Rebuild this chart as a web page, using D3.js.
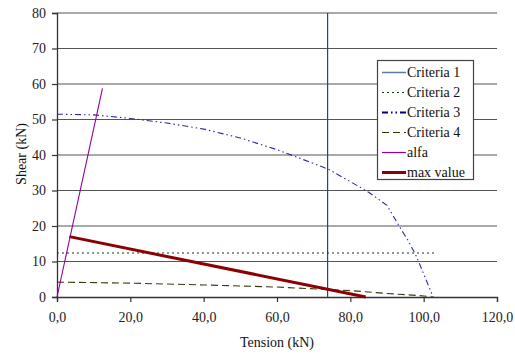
<!DOCTYPE html>
<html>
<head>
<meta charset="utf-8">
<script src="https://cdn.jsdelivr.net/npm/d3@7"></script>
<style>
  body { margin: 0; background: #fff; }
</style>
</head>
<body>
<svg id="chart" width="515" height="354"></svg>
<script>
// Tick values
const xTicks = [0, 20, 40, 60, 80, 100, 120];
const yTicks = [0, 10, 20, 30, 40, 50, 60, 70, 80];

// Series (Tension kN, Shear kN)
const criteria1 = [[73.8, 0], [73.8, 80]];
const criteria2 = [[0, 12.4], [103.3, 12.4]];
const criteria3 = [[0, 51.5], [10, 51.3], [20, 50.3], [30, 49.0], [40, 47.3], [50, 44.8],
                   [60, 41.5], [70, 37.6], [74, 36.0], [80, 32.5], [85, 29.5], [90, 25.8],
                   [94, 18.8], [96, 15.5], [98, 11.5], [100, 6.5], [102.6, 0]];
const criteria4 = [[0, 4.2], [20, 3.9], [40, 3.4], [60, 2.8], [74, 2.1], [80, 1.8],
                   [90, 1.0], [100, 0.3], [102.6, 0]];
const alfa = [[0, 0], [12.4, 58.8]];
const maxValue = [[3.4, 17.0], [84.2, 0]];

const legendNames = ["Criteria 1", "Criteria 2", "Criteria 3", "Criteria 4", "alfa", "max value"];

const FONT = "Liberation Serif";
const svg = d3.select("#chart");
const m = { left: 57, right: 497, top: 13, bottom: 297 };

const x = d3.scaleLinear().domain([0, 120]).range([m.left, m.right]);
const y = d3.scaleLinear().domain([0, 80]).range([m.bottom, m.top]);

// Horizontal gridlines
svg.append("g").selectAll("line").data(yTicks.filter(d => d > 0)).join("line")
  .attr("x1", m.left).attr("x2", m.right)
  .attr("y1", d => y(d)).attr("y2", d => y(d))
  .attr("stroke", "#555").attr("stroke-width", 1.2);

// Axes
const fmtX = d => d3.format(".1f")(d).replace(".", ",");
const xAxis = svg.append("g").attr("transform", `translate(0,${m.bottom})`)
  .call(d3.axisBottom(x).tickValues(xTicks).tickFormat(fmtX).tickSize(5).tickPadding(10));
const yAxis = svg.append("g").attr("transform", `translate(${m.left},0)`)
  .call(d3.axisLeft(y).tickValues(yTicks).tickSize(5).tickPadding(6));
[xAxis, yAxis].forEach(a => {
  a.attr("font-family", FONT).attr("font-size", 14);
  a.select(".domain").attr("stroke", "#333").attr("stroke-width", 1.3);
  a.selectAll(".tick line").attr("stroke", "#333").attr("stroke-width", 1.2);
  a.selectAll(".tick text").attr("fill", "#222");
});

// Axis titles
svg.append("text").attr("x", (m.left + m.right) / 2).attr("y", 347)
  .attr("text-anchor", "middle").attr("font-family", FONT).attr("font-size", 14)
  .attr("fill", "#111").text("Tension (kN)");
svg.append("text").attr("transform", `translate(26,154) rotate(-90)`)
  .attr("text-anchor", "middle").attr("font-family", FONT).attr("font-size", 14)
  .attr("fill", "#111").text("Shear (kN)");

const line = d3.line().x(d => x(d[0])).y(d => y(d[1]));

const styles = [
  { data: criteria1, stroke: "#1f4a7a", width: 1.2, dash: null, lw: 1.5, lstroke: "#5a7aa0" },
  { data: criteria2, stroke: "#123812", width: 1.2, dash: "2,3", lw: 1.2 },
  { data: criteria3, stroke: "#2a2aa0", width: 1.1, dash: "6,3,1.5,3,1.5,3", lw: 2.2, lstroke: "#000080" },
  { data: criteria4, stroke: "#3a3a10", width: 1.1, dash: "7,4", lw: 1.2, lstroke: "#333300" },
  { data: alfa, stroke: "#990099", width: 1.1, dash: null, lw: 1.2 },
  { data: maxValue, stroke: "#8b0000", width: 3, dash: null, lw: 3 }
];

svg.append("g").selectAll("path").data(styles).join("path")
  .attr("d", s => line(s.data))
  .attr("fill", "none")
  .attr("stroke", s => s.stroke)
  .attr("stroke-width", s => s.width)
  .attr("stroke-dasharray", s => s.dash);

// Legend
const lg = svg.append("g");
lg.append("rect").attr("x", 377.5).attr("y", 60.5).attr("width", 96).attr("height", 119)
  .attr("fill", "#fff").attr("stroke", "#444").attr("stroke-width", 1.2);
const rows = lg.selectAll("g.row").data(styles).join("g")
  .attr("transform", (d, i) => `translate(0,${72.5 + i * 20})`);
rows.append("line").attr("x1", 382).attr("x2", 406).attr("y1", 0).attr("y2", 0)
  .attr("stroke", s => s.lstroke || s.stroke)
  .attr("stroke-width", s => s.lw)
  .attr("stroke-dasharray", s => s.dash);
rows.append("text").attr("x", 407).attr("y", 0).attr("dy", "0.35em")
  .attr("font-family", FONT).attr("font-size", 14).attr("fill", "#111")
  .text((d, i) => legendNames[i]);
</script>
</body>
</html>
